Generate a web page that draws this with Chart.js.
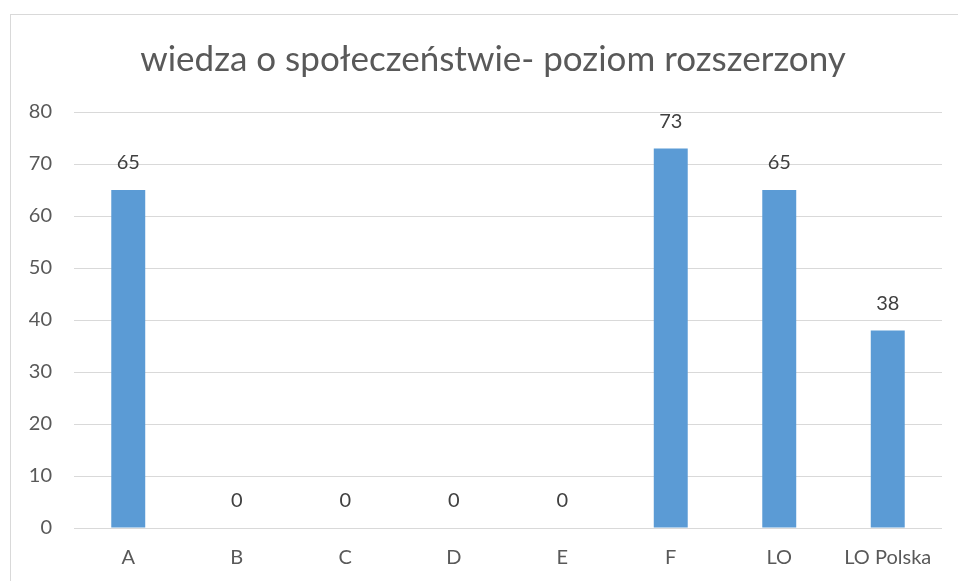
<!DOCTYPE html>
<html>
<head>
<meta charset="utf-8">
<script src="https://cdn.jsdelivr.net/npm/chart.js@4/dist/chart.umd.min.js"></script>
<style>
    html, body { margin: 0; padding: 0; background: #fff; overflow: hidden; }
    #frame {
        position: absolute; left: 10px; top: 14px; width: 1000px; height: 700px;
        border: 1px solid #d9d9d9; box-sizing: border-box;
    }
    #wrap { position: absolute; left: 0; top: 0; width: 958px; height: 581px; }
</style>
</head>
<body>
<div id="frame"></div>
<div id="wrap"><canvas id="chart" width="958" height="581"></canvas></div>
<script>
// Chart data
const chartTitle = 'wiedza o społeczeństwie- poziom rozszerzony';
const categories = ['A', 'B', 'C', 'D', 'E', 'F', 'LO', 'LO Polska'];
const scores = [65, 0, 0, 0, 0, 73, 65, 38];
const yTicks = [0, 10, 20, 30, 40, 50, 60, 70, 80];

const fontFamily = 'Lato, "Open Sans", sans-serif';

// Simple value labels above bars (no datalabels plugin available)
const barValueLabels = {
    id: 'barValueLabels',
    afterDatasetsDraw(chart) {
        const ctx = chart.ctx;
        const meta = chart.getDatasetMeta(0);
        ctx.save();
        ctx.font = '20px ' + fontFamily;
        ctx.fillStyle = '#404040';
        ctx.textAlign = 'center';
        ctx.textBaseline = 'middle';
        meta.data.forEach((bar, i) => {
            ctx.fillText(String(scores[i]), bar.x, bar.y - 27);
        });
        ctx.restore();
    }
};

// The original frame is wider than the window, so its title sits right of centre
const shiftTitle = {
    id: 'shiftTitle',
    afterLayout(chart) {
        if (chart.titleBlock) {
            chart.titleBlock.left = 44;
        }
    }
};

new Chart(document.getElementById('chart').getContext('2d'), {
    type: 'bar',
    data: {
        labels: categories,
        datasets: [{
            data: scores,
            backgroundColor: '#5b9bd5',
            borderWidth: 0,
            categoryPercentage: 1,
            barPercentage: 0.313
        }]
    },
    options: {
        responsive: false,
        animation: false,
        layout: { padding: { left: 0, right: 16, top: 0, bottom: 12 } },
        plugins: {
            legend: { display: false },
            tooltip: { enabled: false },
            title: {
                display: true,
                text: chartTitle,
                color: '#595959',
                font: { family: fontFamily, size: 35, weight: 'normal' },
                padding: { top: 39, bottom: 31 }
            }
        },
        scales: {
            x: {
                afterFit: (scale) => { scale.height = 41; },
                grid: { display: false, drawTicks: false },
                border: { display: false },
                ticks: {
                    color: '#595959',
                    font: { family: fontFamily, size: 20 },
                    padding: 18
                }
            },
            y: {
                min: 0,
                max: 80,
                afterBuildTicks: (scale) => { scale.ticks = yTicks.map(v => ({ value: v })); },
                afterFit: (scale) => { scale.width = 74; },
                grid: { color: '#d9d9d9', drawTicks: false },
                border: { display: false },
                ticks: {
                    color: '#595959',
                    font: { family: fontFamily, size: 20 },
                    padding: 22
                }
            }
        }
    },
    plugins: [barValueLabels, shiftTitle]
});
</script>
</body>
</html>
